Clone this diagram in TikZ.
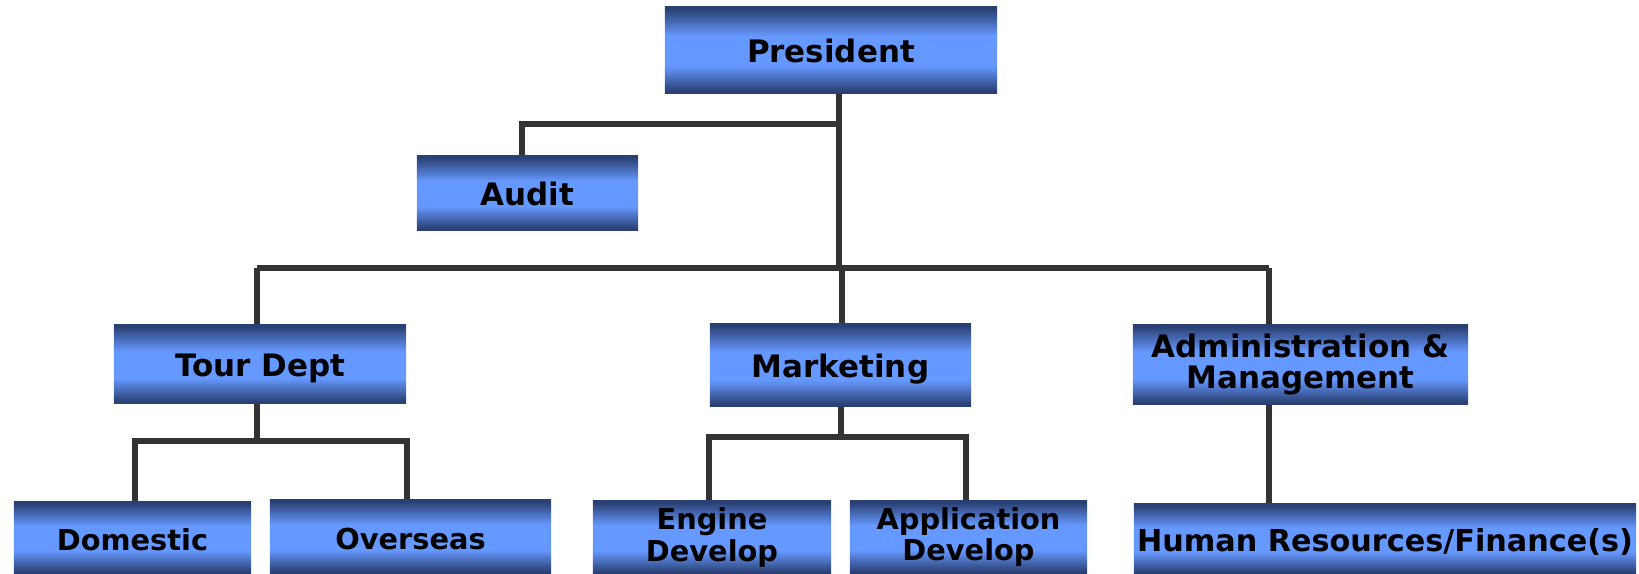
\documentclass[tikz,border=0pt]{standalone}
\usepackage{fontspec}
\setmainfont{DejaVu Sans}
\definecolor{boxdark}{RGB}{42,64,115}
\definecolor{boxlight}{RGB}{102,153,255}
\definecolor{linegray}{RGB}{51,51,51}
\pgfdeclareverticalshading{boxshade}{100bp}{color(0bp)=(boxdark); color(26bp)=(boxdark); color(41bp)=(boxlight); color(58bp)=(boxlight); color(74bp)=(boxdark); color(100bp)=(boxdark)}

\begin{document}
\begin{tikzpicture}[x=0.01cm, y=-0.01cm,
    unit/.style={shading=boxshade, inner sep=0pt, align=center, font=\fontsize{8.8}{8.6}\selectfont\bfseries},
    sub/.style={unit, font=\fontsize{8.2}{7.4}\selectfont\bfseries},
    oneline/.style={text height=0.73em, text depth=0pt},
    link/.style={draw=linegray, line width=1.5pt}]
    \useasboundingbox (0,0) rectangle (1639,574);

    % Kaesten
    \node[unit, oneline, minimum width=3.32cm, minimum height=0.86cm] (pres) at (831,50) {President};
    \node[unit, oneline, minimum width=2.21cm, minimum height=0.74cm] (audit) at (527.5,193) {Audit};
    \node[unit, oneline, minimum width=2.92cm, minimum height=0.78cm] (tour) at (260,364) {Tour Dept};
    \node[unit, oneline, minimum width=2.61cm, minimum height=0.82cm] (mkt) at (840.5,365) {Marketing};
    \node[unit, minimum width=3.35cm, minimum height=0.79cm] (admin) at (1300.5,364.5) {Administration \&\\Management};

    \node[sub, oneline, minimum width=2.37cm, minimum height=0.71cm] (dom) at (132.5,537.5) {Domestic};
    \node[sub, oneline, minimum width=2.81cm, minimum height=0.73cm] (over) at (410.5,536.5) {Overseas};
    \node[sub, minimum width=2.38cm, minimum height=0.73cm] (eng) at (712,537.5) {Engine\\Develop};
    \node[sub, minimum width=2.37cm, minimum height=0.72cm] (app) at (968.5,537) {Application\\Develop};
    \node[unit, oneline, font=\fontsize{8.6}{8.6}\selectfont\bfseries, minimum width=5.02cm, minimum height=0.70cm] (hr) at (1385,539) {Human Resources/Finance(s)};

    % Knicke
    \coordinate (pbus) at (839,268);
    \coordinate (abend) at (522,124);
    \coordinate (tbus) at (257,268);
    \coordinate (mbus) at (842,268);
    \coordinate (abus) at (1269,268);
    \coordinate (tj) at (257,441);
    \coordinate (dj) at (135,441);
    \coordinate (oj) at (407,441);
    \coordinate (mj) at (841,437);
    \coordinate (ej) at (709,437);
    \coordinate (aj) at (966,437);

    % Linien
    \draw[link] (pres.south -| pbus) -- (pbus);
    \draw[link] (pbus |- abend) -- (abend) -- (audit.north -| abend);
    \draw[link] (tbus) -- (abus);
    \draw[link] (tbus) -- (tour.north -| tbus);
    \draw[link] (mbus) -- (mkt.north -| mbus);
    \draw[link] (abus) -- (admin.north -| abus);

    \draw[link] (tour.south -| tj) -- (tj);
    \draw[link] (dom.north -| dj) -- (dj) -- (oj) -- (over.north -| oj);
    \draw[link] (mkt.south -| mj) -- (mj);
    \draw[link] (eng.north -| ej) -- (ej) -- (aj) -- (app.north -| aj);
    \draw[link] (admin.south -| abus) -- (hr.north -| abus);
\end{tikzpicture}
\end{document}
